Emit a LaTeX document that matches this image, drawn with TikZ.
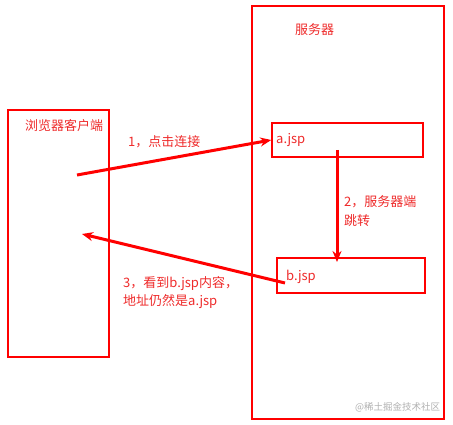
\documentclass[tikz,border=0pt]{standalone}
\usepackage{fontspec}
\setmainfont{Noto Sans CJK SC}
\usetikzlibrary{arrows.meta,positioning}
\definecolor{LineRed}{HTML}{FF0000}
\definecolor{TextRed}{HTML}{EE2A2A}
\definecolor{MarkGray}{HTML}{B0B0B0}

\begin{document}
\begin{tikzpicture}[
    x=1pt,y=-1pt,
    box/.style={draw=LineRed,line width=1.5pt,inner sep=0pt},
    lbl/.style={text=TextRed,font=\fontsize{13}{18.5}\selectfont,inner sep=0pt,anchor=west,align=left},
    flow/.style={draw=LineRed,line width=3pt,-{Stealth[length=11pt,width=9pt]}},
    >=Stealth
  ]
  \useasboundingbox (0,0) rectangle (453,425);

  % client and server frames
  \node[box,minimum width=101pt,minimum height=247pt] (client) at (58.5,233.5) {};
  \node[box,minimum width=192pt,minimum height=413pt] (server) at (348,212.5) {};
  \node[lbl] (clientlbl) at (25,126) {浏览器客户端};
  \node[lbl] (serverlbl) at (295,30) {服务器};

  % pages on the server
  \node[box,minimum width=151pt,minimum height=34pt] (ajsp) at (347.5,140) {};
  \node[box,minimum width=148pt,minimum height=35pt] (bjsp) at (351,275.5) {};
  \node[lbl] (atext) at (276,140) {a.jsp};
  \node[lbl] (btext) at (286,277) {b.jsp};

  % arrow end points
  \coordinate (req) at (77,175);
  \coordinate (fwdA) at (337,150);
  \coordinate (fwdB) at (337,262);
  \coordinate (resB) at (285,283);
  \coordinate (resC) at (82,234);

  \draw[flow] (req) -- (ajsp.west);
  \draw[flow] (fwdA) -- (fwdB);
  \draw[flow] (resB) -- (resC);

  % step labels
  \node[lbl] (step1) at (128,142) {1，点击连接};
  \node[lbl] (step2) at (344,211) {2，服务器端\\跳转};
  \node[lbl] (step3) at (123,292.5) {3，看到b.jsp内容，\\地址仍然是a.jsp};

  \node[text=MarkGray,font=\fontsize{9.5}{11}\selectfont,inner sep=0pt,anchor=west] (mark) at (355,407) {@稀土掘金技术社区};
\end{tikzpicture}
\end{document}
